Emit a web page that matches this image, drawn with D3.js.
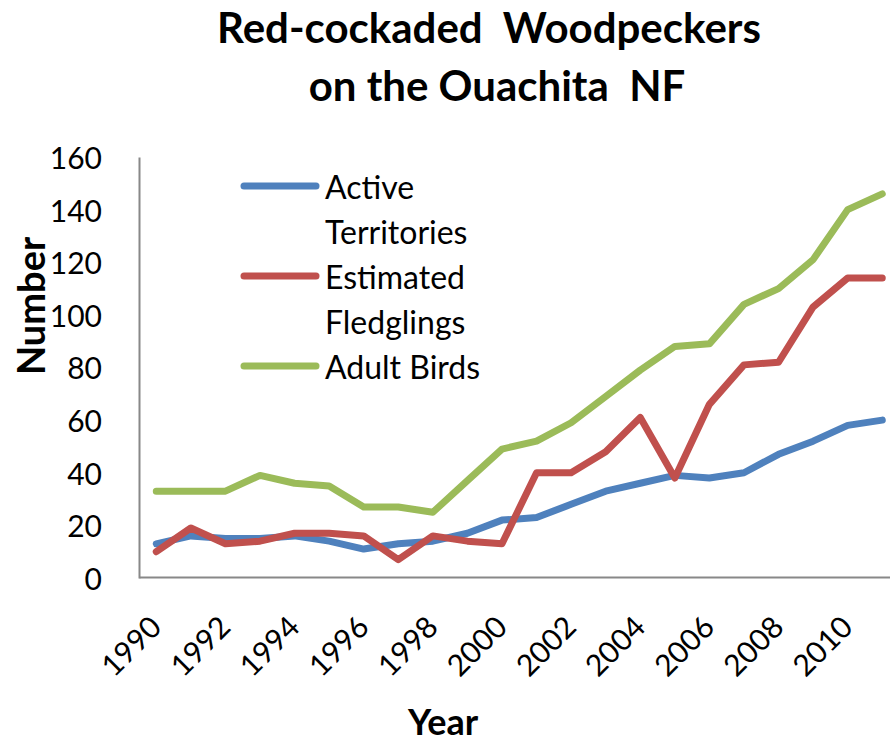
<!DOCTYPE html>
<html>
<head>
<meta charset="utf-8">
<script src="https://cdn.jsdelivr.net/npm/d3@7"></script>
<style>
  body { margin: 0; background: #fff; }
  svg { display: block; font-family: Lato, "Open Sans", sans-serif; }
</style>
</head>
<body>
<svg id="canvas" width="890" height="743"></svg>
<script>
// Data
const years = d3.range(1990, 2012);
const yearTicks = [1990, 1992, 1994, 1996, 1998, 2000, 2002, 2004, 2006, 2008, 2010];
const activeTerritories = [13, 16, 15, 15, 16, 14, 11, 13, 14, 17, 22, 23, 28, 33, 36, 39, 38, 40, 47, 52, 58, 60];
const estimatedFledglings = [10, 19, 13, 14, 17, 17, 16, 7, 16, 14, 13, 40, 40, 48, 61, 38, 66, 81, 82, 103, 114, 114];
const adultBirds = [33, 33, 33, 39, 36, 35, 27, 27, 25, 37, 49, 52, 59, 69, 79, 88, 89, 104, 110, 121, 140, 146];
const seriesNames = ['Active Territories', 'Estimated Fledglings', 'Adult Birds'];
const yTicks = [0, 20, 40, 60, 80, 100, 120, 140, 160];

const colors = ['#4F81BD', '#C0504D', '#9BBB59'];
const series = [activeTerritories, estimatedFledglings, adultBirds].map((vals, i) => ({
    name: seriesNames[i],
    color: colors[i],
    values: vals.map((v, j) => ({ year: years[j], value: v }))
}));

const svg = d3.select('#canvas');

// Plot area (runs past the right edge, like the original)
const plotLeft = 139, plotTop = 157, plotBottom = 578;
const step = 34.57;

const x = d3.scaleBand()
    .domain(years)
    .range([plotLeft, plotLeft + step * years.length])
    .padding(0);

const y = d3.scaleLinear()
    .domain([0, 160])
    .range([plotBottom, plotTop]);

const xc = d => x(d) + x.bandwidth() / 2;

// Title
const title = svg.append('text')
    .attr('text-anchor', 'middle')
    .attr('font-weight', 'bold')
    .attr('font-size', 42)
    .style('white-space', 'pre');
title.append('tspan').attr('x', 489).attr('y', 43).text('Red-cockaded  Woodpeckers');
title.append('tspan').attr('x', 497).attr('y', 101).text('on the Ouachita  NF');

// Axes
const yAxis = svg.append('g')
    .attr('transform', `translate(${plotLeft},0)`)
    .call(d3.axisLeft(y).tickValues(yTicks).tickSize(0).tickPadding(37));

const xAxis = svg.append('g')
    .attr('transform', `translate(0,${plotBottom - 1})`)
    .call(d3.axisBottom(x).tickValues(yearTicks).tickSize(0));

[yAxis, xAxis].forEach(g => {
    g.select('.domain').attr('stroke', '#888').attr('stroke-width', 2);
    g.selectAll('text').attr('fill', '#000').attr('font-size', 30)
        .attr('font-family', 'Lato, "Open Sans", sans-serif');
});

yAxis.selectAll('text').attr('dy', '0.38em');

xAxis.selectAll('text')
    .attr('y', 0)
    .attr('dy', 0)
    .attr('text-anchor', 'end')
    .attr('transform', 'translate(7,52) rotate(-45)');

// Axis titles
svg.append('text')
    .attr('transform', 'translate(45,306) rotate(-90)')
    .attr('text-anchor', 'middle')
    .attr('font-weight', 'bold')
    .attr('font-size', 38)
    .text('Number');

svg.append('text')
    .attr('x', 443)
    .attr('y', 735)
    .attr('text-anchor', 'middle')
    .attr('font-weight', 'bold')
    .attr('font-size', 36)
    .text('Year');

// Lines
const line = d3.line()
    .x(d => xc(d.year))
    .y(d => y(d.value));

svg.append('g')
    .selectAll('path')
    .data(series)
    .enter()
    .append('path')
    .attr('d', d => line(d.values))
    .attr('fill', 'none')
    .attr('stroke', d => d.color)
    .attr('stroke-width', 7)
    .attr('stroke-linejoin', 'round')
    .attr('stroke-linecap', 'round');

// Legend
const legendRows = [
    { lines: ['Active', 'Territories'], color: colors[0] },
    { lines: ['Estimated', 'Fledglings'], color: colors[1] },
    { lines: ['Adult Birds'], color: colors[2] }
];
const legend = svg.append('g');
let rowY = 199;
legendRows.forEach(row => {
    legend.append('line')
        .attr('x1', 244).attr('x2', 316)
        .attr('y1', rowY - 13).attr('y2', rowY - 13)
        .attr('stroke', row.color)
        .attr('stroke-width', 7)
        .attr('stroke-linecap', 'round');
    row.lines.forEach(t => {
        legend.append('text')
            .attr('x', 325)
            .attr('y', rowY)
            .attr('font-size', 32)
            .text(t);
        rowY += 45;
    });
});
</script>
</body>
</html>
